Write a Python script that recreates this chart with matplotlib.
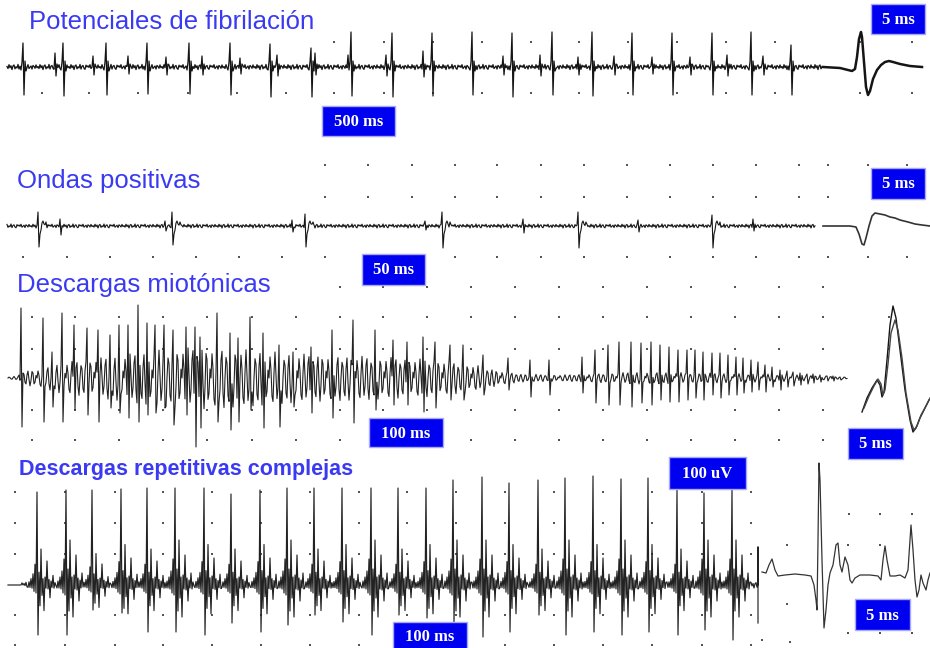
import numpy as np
import matplotlib.pyplot as plt
from matplotlib.patches import Rectangle

# --- panel titles and scale labels ---
titles = ["Potenciales de fibrilación", "Ondas positivas", "Descargas miotónicas",
          "Descargas repetitivas complejas"]
scale_labels = ["5 ms", "500 ms", "5 ms", "50 ms", "100 ms", "5 ms", "100 uV", "100 ms", "5 ms"]

# --- fibrillation potentials (x in px-time units, amplitudes above / below baseline) ---
fib_x = [23, 63, 106, 147, 189, 230, 270, 311, 351, 392, 432, 472, 512, 552, 592, 632, 672, 712, 751, 791]
fib_up = [24, 24, 24, 24, 24, 24, 23, 19, 35, 34, 34, 35, 34, 35, 35, 34, 34, 34, 35, 22]
fib_down = [28, 29, 28, 27, 27, 28, 30, 30, 29, 30, 29, 28, 30, 28, 29, 28, 28, 28, 28, 28]
fib_small_x = [55, 93, 128, 166, 202, 240, 277, 315, 348, 386, 423, 503, 540, 578, 614, 652, 690, 727, 763]
fib_small_up = [14, 11, 11, 10, 11, 9, 12, 14, 12, 12, 16, 11, 12, 10, 11, 10, 10, 12, 11]
fib_small_down = [9, 8, 7, 8, 8, 7, 9, 8, 8, 9, 10, 8, 9, 8, 8, 7, 8, 9, 8]
fib_inset_x = [823, 840, 848, 852, 855, 857, 859, 861, 862, 864, 866, 868, 870, 873, 877, 881, 885, 889, 893, 900, 910, 922]
fib_inset_v = [0, -1, -3, -4, -2, 10, 28, 35, 30, 5, -20, -28, -24, -12, -3, 2, 5, 6, 5, 3, 1, 0]

# --- positive sharp waves ---
psw_x = [38, 172, 305, 442, 578, 712]
psw_up = [14, 14, 12, 14, 14, 11]
psw_down = [21, 19, 21, 22, 22, 22]
psw_small_x = [60, 165, 292, 425, 523, 638, 753]
psw_small_up = [7, 5, 6, 5, 7, 6, 7]
psw_small_down = [9, 5, 6, 4, 7, 6, 5]
psw_inset_x = [823, 850, 856, 859, 862, 864, 866, 869, 872, 875, 880, 885, 890, 895, 900, 908, 915, 922, 930]
psw_inset_v = [0, 0, -1, -8, -18, -19, -12, 0, 10, 13, 12, 11, 9, 8, 6, 4, 2, 1, 0]

# --- myotonic discharges ---
myo_x = [21, 43, 52, 62, 74, 87, 98, 110, 119, 128, 138, 147, 155, 164, 173, 186, 195, 200,
         217, 230, 238, 250, 263, 279, 293, 311, 332, 353, 375, 393, 407, 423, 435, 450, 463, 483,
         508, 530, 549, 582, 595, 608, 619, 631, 641, 651, 660, 669, 678, 687, 695, 703, 712,
         720, 728, 736, 743, 751, 758, 765, 772, 780, 787, 793, 800, 807, 813, 820, 827, 833, 840]
myo_up = [70, 60, 26, 65, 53, 50, 48, 43, 53, 53, 73, 55, 53, 53, 48, 51, 51, 41,
          65, 45, 40, 61, 45, 33, 26, 31, 48, 58, 48, 38, 36, 41, 36, 33, 33, 23,
          20, 18, 18, 21, 28, 33, 36, 36, 35, 36, 33, 31, 28, 28, 28, 26, 25,
          25, 23, 21, 20, 18, 16, 13, 11, 8, 7, 6, 5, 4, 4, 3, 2, 2, 1]
myo_down = [49, 44, 29, 44, 32, 37, 44, 30, 35, 40, 44, 37, 35, 30, 47, 37, 69, 50,
            44, 52, 44, 32, 50, 49, 29, 35, 40, 45, 32, 27, 27, 34, 30, 22, 22, 17,
            12, 19, 17, 15, 25, 27, 27, 29, 25, 27, 22, 24, 24, 22, 20, 22, 17,
            20, 17, 17, 15, 14, 12, 14, 9, 12, 9, 8, 7, 6, 5, 4, 3, 3, 2]
myo_env_x = [8, 18, 22, 40, 60, 100, 160, 200, 250, 300, 380, 440, 480, 500, 520, 560, 640, 700, 760, 800, 847]
myo_env_a = [1, 2, 7, 9, 15, 20, 28, 31, 28, 24, 21, 18, 12, 7, 4, 3, 6, 5, 4, 3, 1]
myo_inset_ax = [862, 867, 872, 877, 880, 882, 884, 887, 890, 893, 896, 900, 905, 910, 913, 916, 920, 925, 929]
myo_inset_av = [-34, -20, -10, -2, -7, -19, -14, 18, 53, 72, 60, 28, -12, -42, -54, -50, -40, -30, -22]
myo_inset_bx = [864, 869, 874, 878, 881, 883, 885, 888, 891, 895, 898, 902, 906, 911, 914, 917, 921, 926, 930]
myo_inset_bv = [-30, -18, -8, -1, -6, -17, -12, 14, 45, 58, 48, 20, -15, -44, -52, -48, -37, -28, -20]

# --- complex repetitive discharges ---
crd_x = [37, 66, 92, 121, 147, 175, 204, 231, 260, 287, 314, 342, 371, 398, 426, 453,
         482, 509, 538, 565, 593, 621, 648, 677, 704, 732]
crd_up = [93, 95, 95, 96, 97, 97, 97, 91, 95, 97, 97, 97, 97, 97, 97, 105,
          108, 102, 105, 107, 109, 106, 107, 96, 92, 96]
crd_down = [50, 50, 25, 28, 47, 47, 50, 38, 47, 40, 30, 37, 50, 30, 33, 37,
            52, 47, 30, 50, 47, 50, 47, 50, 45, 55]
crd_scale = [0.8, 1.0, 0.7, 0.9, 0.8, 1.0, 0.9, 0.8, 0.9, 1.0, 0.8, 0.9, 1.0,
             0.8, 0.9, 1.0, 1.0, 0.9, 0.8, 1.0, 0.9, 1.0, 0.9, 0.8, 1.0, 1.0]
# burst shape around each discharge, offsets -9 .. +18 (0 and 1 are the main spike)
crd_burst = [-3, 4, -3, 8, -4, 14, -8, 26, -10, 0, 0, 16, -26, 45, -13, 8, -32,
             10, -4, 30, -5, 7, -16, 5, -3, 12, -4, 3]
crd_inset_x = [762, 766, 769, 772, 775, 778, 785, 795, 805, 811, 814, 816, 817, 818, 819, 820,
               822, 824, 826, 828, 830, 833, 836, 838, 840, 842, 845, 848, 850, 852, 855, 860,
               870, 878, 881, 883, 885, 887, 890, 895, 900, 905, 908, 910, 911, 913, 915, 917,
               919, 921, 923, 926, 928, 930]
crd_inset_y = [572, 573, 565, 559, 570, 576, 575, 574, 575, 576, 585, 600, 610, 540, 463, 480,
               560, 628, 610, 585, 573, 565, 545, 543, 565, 572, 557, 565, 580, 583, 578, 575,
               575, 576, 580, 560, 546, 560, 576, 576, 575, 578, 570, 540, 525, 550, 580, 597,
               590, 575, 583, 590, 580, 573]

# baseline texture
noise_pattern = [0.2, -0.6, 0.9, -0.3, 0.5, -1.0, 0.4, 0.8, -0.7, 0.1, -0.4, 1.0, -0.8, 0.3,
                 0.6, -0.5, -0.9, 0.7, 0.0, 0.5, -0.2, 0.9, -0.6, -0.1, 0.4, -0.8, 0.6, 0.2,
                 -0.5, 0.8, -0.3]
dense_pattern = [0.0, 0.8, 0.3, -0.7, -0.9, 0.2, 1.0, 0.1, -0.8, -0.4, 0.6, 0.9, -0.5, -1.0,
                 0.0, 0.7, 0.5, -0.6, -0.8, 0.4, 0.9, -0.2, -1.0, -0.3, 0.8, 0.6, -0.7, -0.5, 0.3]

BLUE_TXT = "#3a3af2"
BOX_BLUE = "#0000f0"
TRACE = "#151515"
DOT = "#555555"


def texture(xs, pattern, amp, shift=0):
    idx = (np.arange(len(xs)) + shift) % len(pattern)
    return np.asarray(pattern)[idx] * amp


def put(xs, vals, x, v):
    i = int(round(x - xs[0]))
    if 0 <= i < len(vals):
        vals[i] = v


fig = plt.figure(figsize=(9.3, 6.48), dpi=100)
ax = fig.add_axes([0, 0, 1, 1])
ax.set_xlim(0, 930)
ax.set_ylim(648, 0)
ax.axis("off")

# ---------------- grid dots ----------------
dots = []
cols1 = [42, 89, 138, 188, 237, 286, 334, 384, 433, 482, 531, 579, 628, 677, 726, 775]
dots += [(x, 42) for x in cols1 if x > 320] + [(860, 42), (912, 42)]
dots += [(x, 93) for x in cols1] + [(860, 93), (912, 93)]
cols2 = [23, 67, 110, 153, 196, 239, 282, 325, 368, 412, 455, 497, 541, 584, 627, 670, 713, 756, 799]
dots += [(x, 165) for x in cols2 if x > 320] + [(828, 165), (868, 165), (907, 165)]
dots += [(x, 197) for x in cols2 if x > 320] + [(828, 197)]
dots += [(x, 257) for x in cols2] + [(828, 257), (868, 257), (907, 257)]
cols3 = [32, 75, 119, 163, 207, 252, 296, 340, 383, 427, 471, 515, 559, 603, 647, 691, 735, 779, 823]
for yy in [317, 349, 410, 440]:
    dots += [(x, yy) for x in cols3]
dots += [(x, 287) for x in cols3 if x > 330]
dots += [(889, 349), (889, 317)]
cols4 = [15, 65, 115, 163, 212, 261, 310, 359, 407, 456, 505, 554, 603, 652, 702, 751]
for yy in [492, 523, 554, 615, 645]:
    dots += [(x, yy) for x in cols4]
dots += [(849, 514), (880, 514), (912, 514), (787, 545), (848, 545), (880, 545),
         (787, 604), (848, 633), (880, 633), (912, 633), (762, 640), (790, 642)]
dx, dy = zip(*dots)
ax.scatter(dx, dy, s=3, marker="s", color=DOT, linewidths=0, zorder=1)

# ---------------- trace 1: fibrillation ----------------
b1 = 67
xs = np.arange(7, 823)
v = texture(xs, noise_pattern, 2.6)
for x, u, d in zip(fib_small_x, fib_small_up, fib_small_down):
    put(xs, v, x, u)
    put(xs, v, x + 1, -d)
    put(xs, v, x + 2, 3)
for x, u, d in zip(fib_x, fib_up, fib_down):
    put(xs, v, x - 2, -3)
    put(xs, v, x - 1, 5)
    put(xs, v, x, u)
    put(xs, v, x + 1, -d)
    put(xs, v, x + 2, 6)
    put(xs, v, x + 3, -4)
ax.plot(xs, b1 - v, color=TRACE, lw=0.9, zorder=3)
ax.plot(fib_inset_x, b1 - np.array(fib_inset_v), color=TRACE, lw=1.8, zorder=3)

# ---------------- trace 2: positive sharp waves ----------------
b2 = 226
xs = np.arange(7, 816)
v = texture(xs, noise_pattern, 2.0, shift=7)
for x, u, d in zip(psw_small_x, psw_small_up, psw_small_down):
    put(xs, v, x, u)
    put(xs, v, x + 1, -d)
for x, u, d in zip(psw_x, psw_up, psw_down):
    put(xs, v, x, u)
    put(xs, v, x + 1, -d)
    put(xs, v, x + 2, -8)
    put(xs, v, x + 3, -4)
    put(xs, v, x + 4, 3)
    put(xs, v, x + 5, 5)
    put(xs, v, x + 6, 2)
    put(xs, v, x + 8, 4)
ax.plot(xs, b2 - v, color=TRACE, lw=0.8, zorder=3)
ax.plot(psw_inset_x, b2 - np.array(psw_inset_v), color="#333333", lw=1.2, zorder=3)

# ---------------- trace 3: myotonic ----------------
b3 = 378
xs = np.arange(8, 848)
env = np.interp(xs, myo_env_x, myo_env_a)
v = texture(xs, dense_pattern, 1.0) * env
for x, u, d in zip(myo_x, myo_up, myo_down):
    put(xs, v, x, u)
    put(xs, v, x + 1, -d)
ax.plot(xs, b3 - v, color="#222222", lw=0.8, zorder=3)
ax.plot(myo_inset_ax, b3 - np.array(myo_inset_av), color=TRACE, lw=1.0, zorder=3)
ax.plot(myo_inset_bx, b3 - np.array(myo_inset_bv), color="#444444", lw=1.0, zorder=3)

# ---------------- trace 4: complex repetitive discharges ----------------
b4 = 585
xs = np.arange(8, 759)
v = texture(xs, noise_pattern, 3.0, shift=3)
v[xs < 22] = 0
for k, (x, u, d) in enumerate(zip(crd_x, crd_up, crd_down)):
    for j, val in enumerate(crd_burst):
        off = j - 9
        if off in (0, 1):
            continue
        put(xs, v, x + off, val * crd_scale[k])
    put(xs, v, x, u)
    put(xs, v, x + 1, -d)
xs = np.append(xs, [758, 758])
v = np.append(v, [38, -38])
ax.plot(xs, b4 - v, color="#222222", lw=0.85, zorder=3)
ax.plot(crd_inset_x, crd_inset_y, color="#333333", lw=0.9, zorder=3)

# ---------------- titles ----------------
title_pos = [(29, 22), (17, 181), (17, 285), (19, 470)]
for i, (t, (tx, ty)) in enumerate(zip(titles, title_pos)):
    ax.text(tx, ty, t, color=BLUE_TXT, fontsize=18.5 if i < 3 else 15.5,
            fontweight="bold" if i == 3 else "normal", family="Liberation Sans",
            ha="left", va="center", zorder=5)

# ---------------- scale boxes ----------------
boxes = [(871, 4, 54, 30), (322, 106, 73, 30), (871, 168, 54, 31), (362, 254, 63, 31),
         (369, 418, 74, 29), (848, 428, 55, 31), (669, 457, 77, 32), (393, 622, 74, 28),
         (855, 599, 55, 31)]
for lab, (bx, by, bw, bh) in zip(scale_labels, boxes):
    ax.add_patch(Rectangle((bx, by), bw, bh, facecolor=BOX_BLUE, edgecolor="#a8a8ff",
                           lw=1.0, zorder=6))
    ax.text(bx + bw / 2, by + bh / 2 + 1, lab, color="white", fontsize=12, fontweight="bold",
            family="Liberation Serif", ha="center", va="center", zorder=7)

fig.savefig("out.png", dpi=100, facecolor="white")
